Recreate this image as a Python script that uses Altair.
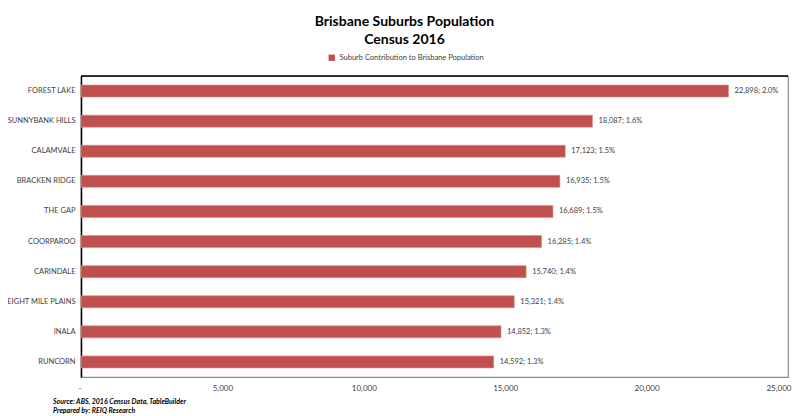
import altair as alt
import pandas as pd

suburbs = ["FOREST LAKE", "SUNNYBANK HILLS", "CALAMVALE", "BRACKEN RIDGE", "THE GAP",
           "COORPAROO", "CARINDALE", "EIGHT MILE PLAINS", "INALA", "RUNCORN"]
population = [22898, 18087, 17123, 16935, 16689, 16285, 15740, 15321, 14852, 14592]
share_pct = [2.0, 1.6, 1.5, 1.5, 1.5, 1.4, 1.4, 1.4, 1.3, 1.3]
series_name = "Suburb Contribution to Brisbane Population"
x_ticks = [0, 5000, 10000, 15000, 20000, 25000]
footnotes = ["Source: ABS, 2016 Census Data, TableBuilder", "Prepared by: REIQ Research"]

df = pd.DataFrame({
    "suburb": suburbs,
    "population": population,
    "share": share_pct,
})
df["series"] = series_name
df["label"] = [f"{p:,}; {s:.1f}%" for p, s in zip(population, share_pct)]

FONT = "Lato"
W, H = 707, 301

y_enc = alt.Y("suburb:N", sort=suburbs, title=None,
              scale=alt.Scale(paddingInner=0.6, paddingOuter=0.3),
              axis=alt.Axis(ticks=False, domainColor="#000000", domainWidth=1.5,
                            labelFontSize=7.5, labelColor="#404040", labelPadding=6,
                            labelFont=FONT))
x_enc = alt.X("population:Q", title=None,
              scale=alt.Scale(domain=[0, 25000], nice=False),
              axis=alt.Axis(values=x_ticks, grid=False, ticks=False, domain=False,
                            labelFontSize=8, labelColor="#404040", labelPadding=7,
                            labelFont=FONT, labelFlush=True, labelFlushOffset=3,
                            labelExpr="datum.value == 0 ? '-' : format(datum.value, ',')"))

bars = alt.Chart(df).mark_bar(color="#C0504D", stroke="#D9918F", strokeWidth=0.6).encode(
    x=x_enc, y=y_enc,
    color=alt.Color("series:N", scale=alt.Scale(range=["#C0504D"]), title=None,
                    legend=alt.Legend(orient="none", legendX=247, legendY=-22,
                                      symbolType="square", symbolSize=40,
                                      labelFontSize=7.5, labelFont=FONT,
                                      labelColor="#404040", symbolStrokeWidth=0)),
)

labels = alt.Chart(df).mark_text(align="left", dx=6, fontSize=7.5, font=FONT,
                                 color="#404040").encode(
    x="population:Q", y=alt.Y("suburb:N", sort=suburbs), text="label:N")

top_line = alt.Chart(df.head(1)).mark_rule(color="#000000", strokeWidth=1.5).encode(
    x=alt.value(0), x2=alt.value(W), y=alt.value(0))

foot_layers = []
for i, t in enumerate(footnotes):
    foot_layers.append(
        alt.Chart(pd.DataFrame({"t": [t]})).mark_text(
            align="left", baseline="middle", fontSize=7, fontStyle="italic",
            fontWeight="bold", font=FONT, color="#000000").encode(
            x=alt.value(-28), y=alt.value(H + 25 + 9 * i), text="t:N"))

chart = alt.layer(bars, labels, top_line, *foot_layers).properties(
    width=W, height=H,
    title=alt.TitleParams(["Brisbane Suburbs Population", "Census 2016"],
                          anchor="middle", fontSize=14, font=FONT, fontWeight="bold",
                          color="#000000", dx=-30, offset=7, lineHeight=18),
    autosize=alt.AutoSizeParams(type="none"),
    padding={"left": 73, "top": 68, "right": 4, "bottom": 38},
).configure_view(stroke="#8C8C8C", strokeWidth=1.2)

chart.save("out.html", embed_options={"renderer": "svg", "actions": False})
